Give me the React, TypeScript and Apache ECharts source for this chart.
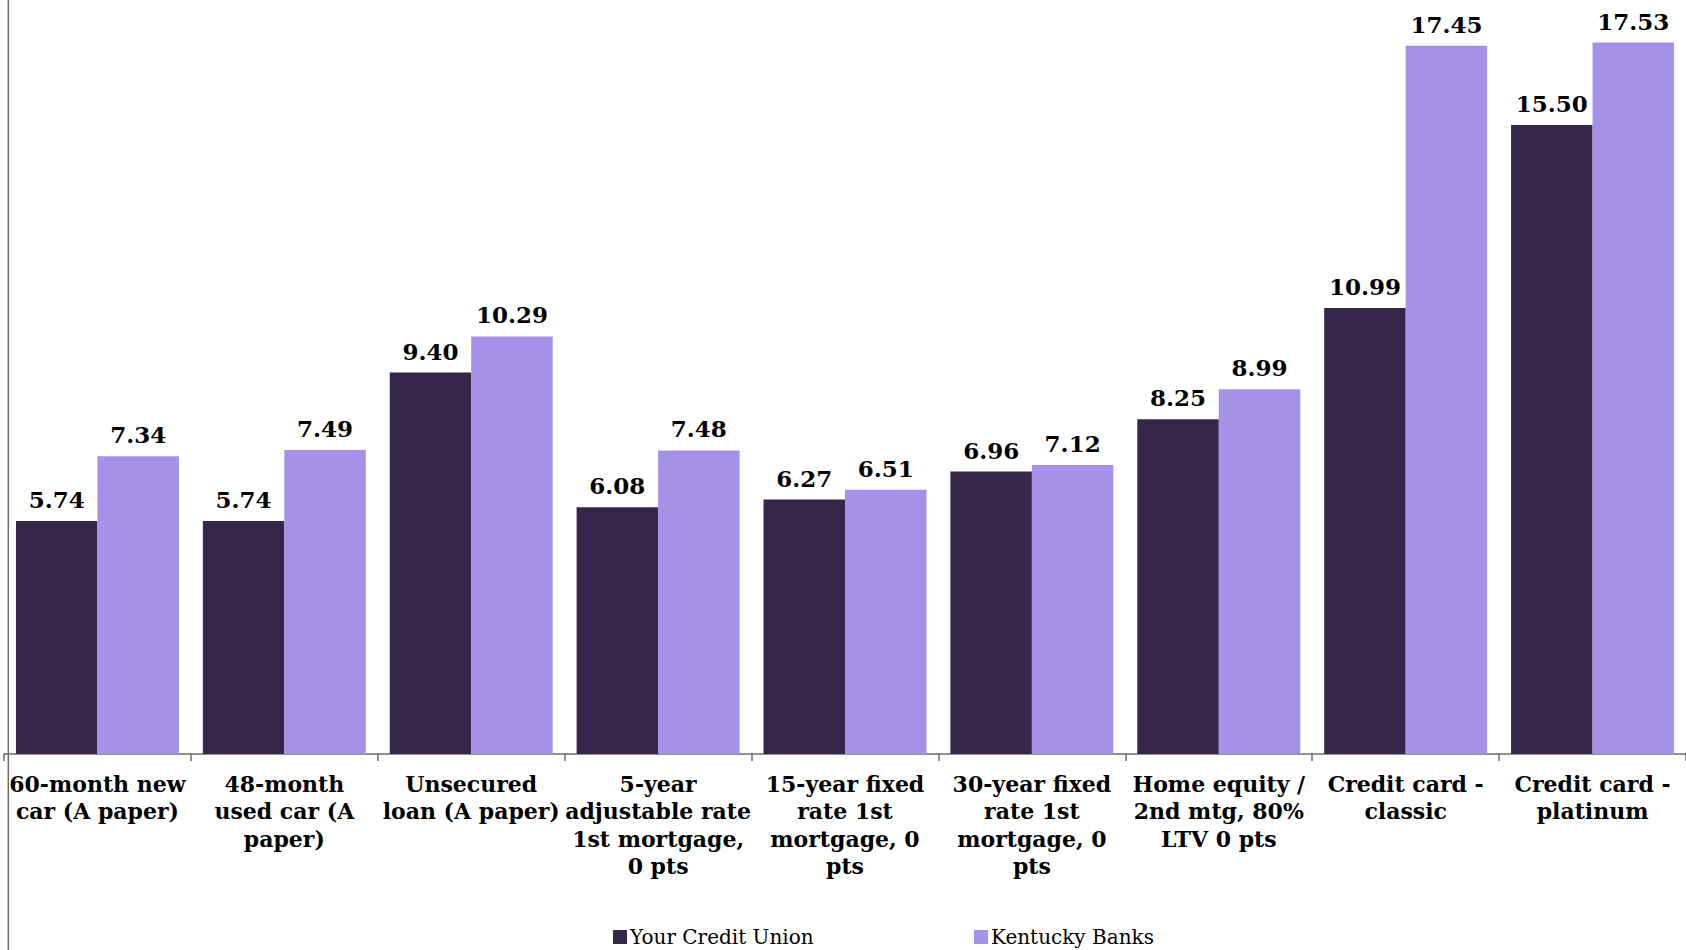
import React, { useEffect, useRef } from "react";
import * as echarts from "echarts";

// Loan rate comparison: credit union vs. Kentucky banks
const categories: string[] = [
  "60-month new\ncar (A paper)",
  "48-month\nused car (A\npaper)",
  "Unsecured\nloan (A paper)",
  "5-year\nadjustable rate\n1st mortgage,\n0 pts",
  "15-year fixed\nrate 1st\nmortgage, 0\npts",
  "30-year fixed\nrate 1st\nmortgage, 0\npts",
  "Home equity /\n2nd mtg, 80%\nLTV 0 pts",
  "Credit card -\nclassic",
  "Credit card -\nplatinum",
];

const creditUnion: number[] = [5.74, 5.74, 9.4, 6.08, 6.27, 6.96, 8.25, 10.99, 15.5];
const kentuckyBanks: number[] = [7.34, 7.49, 10.29, 7.48, 6.51, 7.12, 8.99, 17.45, 17.53];

const seriesNames: string[] = ["Your Credit Union", "Kentucky Banks"];

const DARK = "#35264A";
const LIGHT = "#A591E8";
const FONT = "'DejaVu Serif', Georgia, serif";

export default function App() {
  const ref = useRef<HTMLDivElement>(null);

  useEffect(() => {
    document.body.style.margin = "0";
    if (!ref.current) return;
    const chart = echarts.init(ref.current, undefined, { renderer: "svg" });

    const valueLabel = {
      show: true,
      position: "top" as const,
      distance: 10,
      color: "#000",
      fontFamily: FONT,
      fontWeight: "bold" as const,
      fontSize: 23,
      formatter: (p: any) => Number(p.value).toFixed(2),
    };

    const legendBase = {
      top: 927,
      icon: "rect",
      itemWidth: 14,
      itemHeight: 14,
      itemGap: 6,
      textStyle: { fontFamily: FONT, fontSize: 20, color: "#000", padding: [0, 0, 0, -2] },
      padding: 0,
    };

    chart.setOption({
      animation: false,
      backgroundColor: "#fff",
      grid: { left: 4, top: 0, width: 1684, bottom: 196, containLabel: false },
      xAxis: {
        type: "category",
        data: categories,
        axisLine: { show: true, lineStyle: { color: "#6b6b6b", width: 1.5 } },
        axisTick: { show: true, length: 7, lineStyle: { color: "#6b6b6b", width: 1.5 } },
        axisLabel: {
          interval: 0,
          margin: 16,
          color: "#000",
          fontFamily: FONT,
          fontWeight: "bold",
          fontSize: 22,
          lineHeight: 27.5,
          align: "center",
        },
      },
      yAxis: {
        type: "value",
        min: 0,
        max: 18.58,
        show: false,
        splitLine: { show: false },
      },
      legend: [
        { ...legendBase, left: 613, data: [seriesNames[0]] },
        { ...legendBase, left: 974, data: [seriesNames[1]] },
      ],
      series: [
        {
          name: seriesNames[0],
          type: "bar",
          data: creditUnion,
          itemStyle: { color: DARK },
          barGap: "0%",
          barCategoryGap: "12.8%",
          label: valueLabel,
        },
        {
          name: seriesNames[1],
          type: "bar",
          data: kentuckyBanks,
          itemStyle: { color: LIGHT },
          barGap: "0%",
          barCategoryGap: "12.8%",
          label: valueLabel,
        },
      ],
      graphic: [
        {
          type: "line",
          shape: { x1: 8.3, y1: 0, x2: 8.3, y2: 950 },
          style: { stroke: "#6b6b6b", lineWidth: 1.5 },
          z: 10,
        },
      ],
    });

    return () => chart.dispose();
  }, []);

  return <div ref={ref} style={{ width: 1686, height: 950 }} />;
}
